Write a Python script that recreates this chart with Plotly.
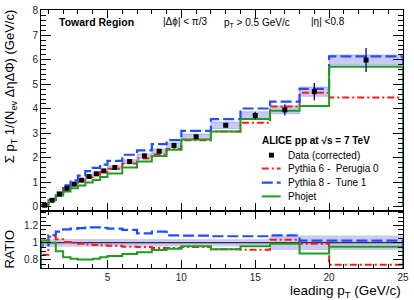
import plotly.graph_objects as go

# ---------------- data ----------------
bin_edges = [0.5, 1, 1.5, 2, 2.5, 3, 3.5, 4, 4.5, 5, 6, 7, 8, 9, 10, 12, 14, 16, 18, 20, 25]
data_vals = [0.07, 0.27, 0.52, 0.76, 0.93, 1.09, 1.24, 1.35, 1.47, 1.61,
             1.85, 2.08, 2.27, 2.51, 2.86, 3.33, 3.73, 3.96, 4.70, 5.99]
data_stat = [0.01, 0.01, 0.01, 0.01, 0.01, 0.01, 0.01, 0.01, 0.01, 0.01,
             0.01, 0.02, 0.02, 0.03, 0.04, 0.08, 0.15, 0.23, 0.35, 0.49]
data_sys_rel = [0.04, 0.04, 0.04, 0.04, 0.04, 0.04, 0.04, 0.04, 0.04, 0.04,
                0.04, 0.04, 0.04, 0.04, 0.04, 0.04, 0.04, 0.04, 0.04, 0.035]
ratio_band_rel = [0.045, 0.045, 0.045, 0.045, 0.045, 0.045, 0.045, 0.045, 0.045, 0.045,
                  0.045, 0.045, 0.045, 0.045, 0.04, 0.04, 0.04, 0.085, 0.085, 0.085]

ratio_pythia6 = [0.86, 1.07, 1.04, 1.01, 1.00, 0.99, 0.98, 0.975, 0.97, 0.965,
                 0.955, 0.95, 0.94, 0.94, 0.95, 0.925, 0.92, 1.035, 0.99, 0.745]
ratio_pythia8 = [0.97, 1.09, 1.13, 1.155, 1.165, 1.17, 1.18, 1.18, 1.175, 1.165,
                 1.15, 1.11, 1.13, 1.085, 1.083, 1.076, 1.076, 1.085, 1.025, 1.025]
ratio_phojet = [1.025, 1.0, 0.90, 0.83, 0.815, 0.805, 0.805, 0.815, 0.83, 0.845,
                0.87, 0.89, 0.915, 0.93, 0.96, 0.925, 0.96, 0.99, 0.875, 0.955]

y_ticks_top = [0, 1, 2, 3, 4, 5, 6, 7, 8]
x_ticks = [5, 10, 15, 20, 25]

series_names = ["Data (corrected)", "Pythia 6 -  Perugia 0", "Pythia 8 -  Tune 1", "Phojet"]

# ---------------- derived ----------------
centers = [(a + b) / 2 for a, b in zip(bin_edges[:-1], bin_edges[1:])]
p6_vals = [r * d for r, d in zip(ratio_pythia6, data_vals)]
p8_vals = [r * d for r, d in zip(ratio_pythia8, data_vals)]
ph_vals = [r * d for r, d in zip(ratio_phojet, data_vals)]

RED = "#ff1a1a"
BLUE = "#1f4dff"
GREEN = "#1e9e1e"
BAND = "#c9c9f4"
FONT = "Liberation Sans, Arial, sans-serif"


def step_xy(vals):
    x = [bin_edges[0]] + list(bin_edges) + [bin_edges[-1]]
    y = [0] + list(vals) + [vals[-1], 0]
    return x, y


def band_xy(lo, hi):
    xs, ys = [], []
    for i in range(len(lo)):
        xs += [bin_edges[i], bin_edges[i + 1]]
        ys += [hi[i], hi[i]]
    for i in reversed(range(len(lo))):
        xs += [bin_edges[i + 1], bin_edges[i]]
        ys += [lo[i], lo[i]]
    xs.append(xs[0])
    ys.append(ys[0])
    return xs, ys


fig = go.Figure()

# ---- top panel ----
lo = [d * (1 - s) for d, s in zip(data_vals, data_sys_rel)]
hi = [d * (1 + s) for d, s in zip(data_vals, data_sys_rel)]
bx, by = band_xy(lo, hi)
fig.add_trace(go.Scatter(x=bx, y=by, fill="toself", fillcolor=BAND, mode="lines",
                         line=dict(color="rgba(120,120,230,0.5)", width=0.8),
                         xaxis="x", yaxis="y", hoverinfo="skip"))

styles = [
    (p6_vals, ratio_pythia6, dict(color=RED, width=2, dash="7px,3px,2px,3px")),
    (p8_vals, ratio_pythia8, dict(color=BLUE, width=2.2, dash="11px,4px")),
    (ph_vals, ratio_phojet, dict(color=GREEN, width=2)),
]
for vals, rat, ln in styles:
    x, y = step_xy(vals)
    fig.add_trace(go.Scatter(x=x, y=y, mode="lines", line=dict(shape="hv", **ln),
                             xaxis="x", yaxis="y", hoverinfo="skip"))

fig.add_trace(go.Scatter(x=centers, y=data_vals, mode="markers",
                         marker=dict(symbol="square", size=5, color="black"),
                         error_y=dict(type="data", array=data_stat, color="#00008b",
                                      thickness=1.3, width=0),
                         xaxis="x", yaxis="y"))

# ---- ratio panel ----
rlo = [1 - s for s in ratio_band_rel]
rhi = [1 + s for s in ratio_band_rel]
bx, by = band_xy(rlo, rhi)
fig.add_trace(go.Scatter(x=bx, y=by, fill="toself", fillcolor=BAND, mode="lines",
                         line=dict(width=0), xaxis="x2", yaxis="y2", hoverinfo="skip"))
data_ratio = [d / d for d in data_vals]
fig.add_trace(go.Scatter(x=bin_edges, y=data_ratio + [data_ratio[-1]], mode="lines",
                         line=dict(shape="hv", color="black", width=1.2),
                         xaxis="x2", yaxis="y2", hoverinfo="skip"))
for vals, rat, ln in styles:
    x, y = step_xy(rat)
    fig.add_trace(go.Scatter(x=x, y=y, mode="lines", line=dict(shape="hv", **ln),
                             xaxis="x2", yaxis="y2", hoverinfo="skip"))

# ---- layout ----
split = (268 - 210) / 263.0
axis_common = dict(showline=True, linecolor="black", linewidth=1, mirror="allticks",
                   ticks="inside", tickcolor="black", showgrid=False, zeroline=False,
                   tickfont=dict(family=FONT, size=10, color="#222"))

fig.update_layout(
    width=414, height=300,
    margin=dict(l=41, r=9, t=5, b=32),
    paper_bgcolor="white", plot_bgcolor="white",
    showlegend=False,
    hovermode=False,
    font=dict(family=FONT, color="black"),
    xaxis=dict(domain=[0, 1], anchor="y", range=[0.5, 25], tickvals=x_ticks,
               showticklabels=False, ticklen=8,
               minor=dict(dtick=1, tick0=0, ticklen=4, ticks="inside", tickcolor="black"),
               **axis_common),
    yaxis=dict(domain=[split, 1], anchor="x", range=[-0.17, 8.03], tickvals=y_ticks_top,
               ticklen=10,
               minor=dict(dtick=0.2, tick0=0, ticklen=5, ticks="inside", tickcolor="black"),
               **axis_common),
    xaxis2=dict(domain=[0, 1], anchor="y2", range=[0.5, 25], tickvals=x_ticks,
                ticklen=8, matches="x",
                minor=dict(dtick=1, tick0=0, ticklen=4, ticks="inside", tickcolor="black"),
                **axis_common),
    yaxis2=dict(domain=[0, split], anchor="x2", range=[0.706, 1.369], dtick=0.2, tick0=0,
                ticklen=10,
                minor=dict(dtick=0.05, tick0=0, ticklen=5, ticks="inside", tickcolor="black"),
                **axis_common),
)


def px2paper(px, py):
    return (px - 41) / 364.0, (268 - py) / 263.0


ann = []


def add_text(text, px, py, size=10, xanchor="left", yanchor="middle", angle=0, bold=False):
    x, y = px2paper(px, py)
    ann.append(dict(text=("<b>%s</b>" % text) if bold else text, x=x, y=y, xref="paper",
                    yref="paper", showarrow=False, xanchor=xanchor, yanchor=yanchor,
                    textangle=angle, font=dict(family=FONT, size=size, color="black")))


add_text("Toward Region", 57, 17, size=10.5, bold=True)
add_text("|Δϕ| < π/3", 162, 17, size=10)
add_text("p<sub>T</sub> > 0.5 GeV/c", 223, 18, size=10)
add_text("|η| <0.8", 310, 17, size=10)
add_text("ALICE pp at √s = 7 TeV", 261, 138, size=10, bold=True)
leg_y = [153, 166.5, 181, 195]
for name, yy in zip(series_names, leg_y):
    add_text(name, 287, yy, size=10)
add_text("Σ p<sub>T</sub> 1/(N<sub>ev</sub> ΔηΔΦ) (GeV/c)", 10, 2, size=13,
         xanchor="center", yanchor="top", angle=-90)
add_text("RATIO", 9, 249, size=13, xanchor="center", angle=-90)
add_text("leading p<sub>T</sub> (GeV/c)", 405, 291.5, size=13.5, xanchor="right")
fig.update_layout(annotations=ann)

# legend symbols (paper coordinates)
shapes = []
mx, my = px2paper(272.7, leg_y[0])
shapes.append(dict(type="rect", xref="paper", yref="paper",
                   x0=mx - 2.5 / 364, x1=mx + 2.5 / 364, y0=my - 2.5 / 263, y1=my + 2.5 / 263,
                   fillcolor="black", line=dict(width=0)))
for (vals, rat, ln), yy in zip(styles, leg_y[1:]):
    x0, y0 = px2paper(263, yy)
    x1, _ = px2paper(282, yy)
    shapes.append(dict(type="line", xref="paper", yref="paper", x0=x0, x1=x1, y0=y0, y1=y0,
                       line=ln))
fig.update_layout(shapes=shapes)

fig.write_html("out.html", config={"displayModeBar": False, "staticPlot": True},
               post_script="document.body.style.margin='0px';document.body.style.padding='0px';")
